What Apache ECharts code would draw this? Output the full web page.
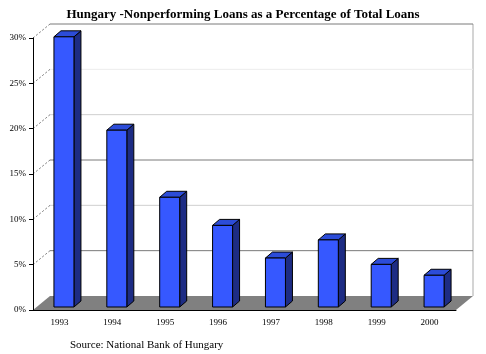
<!DOCTYPE html>
<html>
<head>
<meta charset="utf-8">
<script src="https://cdn.jsdelivr.net/npm/echarts@6/dist/echarts.min.js"></script>
<style>
  html, body { margin: 0; padding: 0; background: #fff; }
  #chart { width: 486px; height: 354px; }
</style>
</head>
<body>
<div id="chart"></div>
<script>
// data
var years = ['1993', '1994', '1995', '1996', '1997', '1998', '1999', '2000']
var nplShare = [29.8, 19.5, 12.1, 9.0, 5.4, 7.4, 4.7, 3.5]
var yTicks = [0, 5, 10, 15, 20, 25, 30]

// fake 3d depth of the wall and of each bar
var DX = 17
var DY = -14
var BAR_DX = 7
var BAR_DY = -6
var gridColor = { 5: '#7a7a7a', 15: '#7a7a7a', 30: '#7a7a7a', 10: '#cfcfcf', 20: '#cfcfcf', 25: '#ececec' }

function renderWall (params, api) {
  var v = api.value(1)
  var p = api.coord([0, v])
  var cs = params.coordSys
  var x0 = cs.x
  var x1 = cs.x + cs.width
  var y = p[1]
  var children = []
  if (v === 0) {
    children.push({
      type: 'polygon',
      shape: { points: [[x0, y], [x1, y], [x1 + DX, y + DY], [x0 + DX, y + DY]] },
      style: { fill: '#808080' }
    })
    children.push({
      type: 'line',
      shape: { x1: x1 + DX, y1: y + DY, x2: x1 + DX, y2: cs.y + DY },
      style: { stroke: '#d4d4d4', lineWidth: 2 }
    })
  } else {
    children.push({
      type: 'line',
      shape: { x1: x0 + DX, y1: y + DY, x2: x1 + DX, y2: y + DY },
      style: { stroke: gridColor[v], lineWidth: 1 }
    })
    children.push({
      type: 'line',
      shape: { x1: x0, y1: y, x2: x0 + DX, y2: y + DY },
      style: { stroke: '#555', lineWidth: 0.8, lineDash: [2, 2] }
    })
  }
  return { type: 'group', children: children }
}

function renderBar (params, api) {
  var idx = api.value(0)
  var base = api.coord([idx, 0])
  var top = api.coord([idx, api.value(1)])
  var xa = base[0] - 5.5
  var xb = base[0] + 14.5
  var yb = base[1] - 3
  var yt = top[1] - 3
  var line = { stroke: '#000', lineWidth: 1 }
  return {
    type: 'group',
    children: [
      {
        type: 'polygon',
        shape: { points: [[xb, yt], [xb + BAR_DX, yt + BAR_DY], [xb + BAR_DX, yb + BAR_DY], [xb, yb]] },
        style: Object.assign({ fill: '#1d2c84' }, line)
      },
      {
        type: 'polygon',
        shape: { points: [[xa, yt], [xa + BAR_DX, yt + BAR_DY], [xb + BAR_DX, yt + BAR_DY], [xb, yt]] },
        style: Object.assign({ fill: '#2c4cd8' }, line)
      },
      {
        type: 'rect',
        shape: { x: xa, y: yt, width: xb - xa, height: yb - yt },
        style: Object.assign({ fill: '#3658ff' }, line)
      }
    ]
  }
}

var chart = echarts.init(document.getElementById('chart'))
var font = 'Liberation Serif'
chart.setOption({
  animation: false,
  backgroundColor: '#fff',
  title: {
    text: 'Hungary -Nonperforming Loans as a Percentage of Total Loans',
    left: 'center',
    top: 3,
    textStyle: { fontFamily: font, fontSize: 13, fontWeight: 'bold', color: '#000' }
  },
  graphic: [{
    type: 'text',
    left: 70,
    top: 340,
    style: { text: 'Source: National Bank of Hungary', font: '11px "Liberation Serif"', fill: '#000' }
  }],
  grid: { left: 33, right: 30, top: 38, bottom: 44 },
  xAxis: {
    type: 'category',
    data: years,
    axisLine: { lineStyle: { color: '#000', width: 1 } },
    axisTick: { length: 6, interval: 0, lineStyle: { color: '#000' } },
    axisLabel: { fontFamily: font, fontSize: 9, color: '#000', margin: 8, interval: 0 },
    z: 10
  },
  yAxis: {
    type: 'value',
    min: 0,
    max: 30,
    interval: 5,
    axisLine: { show: true, lineStyle: { color: '#000', width: 1 } },
    axisTick: { show: true, length: 4, lineStyle: { color: '#000' } },
    axisLabel: { fontFamily: font, fontSize: 9, color: '#000', margin: 7, formatter: '{value}%' },
    splitLine: { show: false },
    z: 10
  },
  series: [
    {
      type: 'custom',
      name: 'wall',
      renderItem: renderWall,
      data: yTicks.map(function (v) { return [0, v] }),
      encode: { x: 0, y: 1 },
      clip: false,
      silent: true,
      z: 1
    },
    {
      type: 'custom',
      name: 'NPL',
      renderItem: renderBar,
      data: nplShare.map(function (v, i) { return [i, v] }),
      encode: { x: 0, y: 1 },
      clip: false,
      z: 2
    }
  ]
})
</script>
</body>
</html>
